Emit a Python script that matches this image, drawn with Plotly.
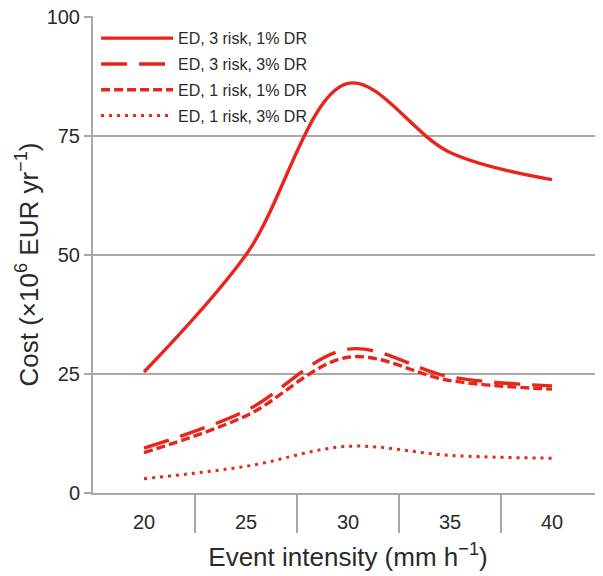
import plotly.graph_objects as go

intensity = ["20", "25", "30", "35", "40"]
ed3_1 = [25.4, 50.0, 86.0, 71.5, 65.8]
ed3_3 = [9.4, 17.3, 30.2, 24.4, 22.5]
ed1_1 = [8.5, 16.2, 28.5, 23.6, 21.8]
ed1_3 = [3.0, 5.6, 9.8, 7.9, 7.3]
names = ["ED, 3 risk, 1% DR", "ED, 3 risk, 3% DR", "ED, 1 risk, 1% DR", "ED, 1 risk, 3% DR"]

RED = "#e8251c"
GRID = "#a8a8a8"
series = [ed3_1, ed3_3, ed1_1, ed1_3]
dashes = ["solid", "26px,12px", "9px,4px", "3px,5px"]
widths = [3.4, 3.4, 3.4, 3]

fig = go.Figure()
for k, (s, n, d, w) in enumerate(zip(series, names, dashes, widths)):
    fig.add_trace(go.Scatter(x=intensity, y=s, name=n, mode="lines", legendgroup=f"g{k}",
                             line=dict(color=RED, width=w, dash=d, shape="spline", smoothing=1.0)))

# category boundary ticks
for i in range(len(intensity) - 1):
    fig.add_shape(type="line", xref="x", yref="paper", x0=i + 0.5, x1=i + 0.5,
                  y0=0, y1=-0.084, line=dict(color=GRID, width=2))

# y-axis title
fig.add_annotation(text="Cost (×10<sup>6</sup> EUR yr<sup>−1</sup>)", textangle=-90,
                   xref="paper", yref="paper", x=0, y=0.5, xanchor="center", yanchor="middle",
                   xshift=-65, yshift=-10, showarrow=False, font=dict(size=26))

fig.update_layout(
    width=595, height=568,
    margin=dict(l=85, r=0, t=8, b=83),
    paper_bgcolor="white", plot_bgcolor="white",
    font=dict(family="Liberation Sans, Arial, sans-serif", color="#2a2a2a"),
    showlegend=True,
    legend=dict(x=0.006, y=0.989, xanchor="left", yanchor="top",
                bgcolor="rgba(255,255,255,0)", font=dict(size=16),
                itemwidth=72, tracegroupgap=2),
    xaxis=dict(type="category", range=[-0.5, 4.5], showgrid=False,
               showline=True, linecolor=GRID, linewidth=2, ticks="",
               tickfont=dict(size=20), ticklabelstandoff=10,
               title=dict(text="Event intensity (mm h<sup>−1</sup>)", font=dict(size=26), standoff=16)),
    yaxis=dict(range=[0, 100.15], tickvals=[0, 25, 50, 75, 100],
               showgrid=True, gridcolor=GRID, gridwidth=2,
               showline=True, linecolor=GRID, linewidth=2,
               ticks="outside", ticklen=7, tickcolor=GRID, tickwidth=2,
               tickfont=dict(size=20), zeroline=False, automargin=False,
               ticklabeloverflow="allow"),
)

fig.write_html("out.html")
